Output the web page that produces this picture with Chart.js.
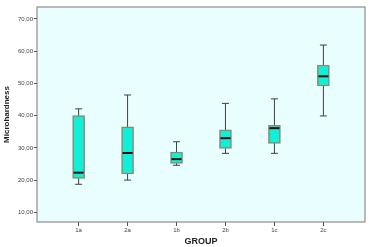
<!DOCTYPE html>
<html><head><meta charset="utf-8">
<script src="https://cdn.jsdelivr.net/npm/chart.js@4/dist/chart.umd.min.js"></script>
<style>html,body{margin:0;padding:0;background:#fff;}canvas{display:block;}</style>
</head><body>
<canvas id="c" width="371" height="247"></canvas>
<script>
const groups = ['1a','2a','1b','2b','1c','2c'];
const whiskerLow = [18.7, 20.0, 24.6, 28.3, 28.3, 39.9];
const q1 = [20.5, 21.9, 25.2, 29.8, 31.4, 49.2];
const median = [22.3, 28.4, 26.5, 33.0, 36.1, 52.2];
const q3 = [40.0, 36.5, 28.7, 35.6, 37.0, 55.7];
const whiskerHigh = [42.1, 46.4, 31.9, 43.8, 45.2, 61.9];
const yTicks = [10, 20, 30, 40, 50, 60, 70];

const bgPlugin = {
  id: 'bg',
  beforeDraw(chart) {
    const {ctx, chartArea: a} = chart;
    ctx.save();
    ctx.fillStyle = '#E9FEFE';
    ctx.fillRect(a.left, a.top, a.right - a.left, a.bottom - a.top);
    ctx.strokeStyle = '#8E8E8E';
    ctx.lineWidth = 1.2;
    ctx.strokeRect(a.left, a.top, a.right - a.left, a.bottom - a.top);
    ctx.restore();
  }
};

const boxPlugin = {
  id: 'box',
  afterDatasetsDraw(chart) {
    const {ctx, scales: {x, y}} = chart;
    const meta = chart.getDatasetMeta(0);
    ctx.save();
    groups.forEach((g, i) => {
      const cx = x.getPixelForValue(i);
      const bar = meta.data[i];
      const half = bar.width / 2;
      const cap = 3.5;
      ctx.strokeStyle = '#404040';
      ctx.lineWidth = 1;
      ctx.beginPath();
      ctx.moveTo(cx, y.getPixelForValue(q3[i]));
      ctx.lineTo(cx, y.getPixelForValue(whiskerHigh[i]));
      ctx.moveTo(cx - cap, y.getPixelForValue(whiskerHigh[i]));
      ctx.lineTo(cx + cap, y.getPixelForValue(whiskerHigh[i]));
      ctx.moveTo(cx, y.getPixelForValue(q1[i]));
      ctx.lineTo(cx, y.getPixelForValue(whiskerLow[i]));
      ctx.moveTo(cx - cap, y.getPixelForValue(whiskerLow[i]));
      ctx.lineTo(cx + cap, y.getPixelForValue(whiskerLow[i]));
      ctx.stroke();
      ctx.strokeStyle = '#111';
      ctx.lineWidth = 2;
      ctx.beginPath();
      ctx.moveTo(cx - half + 1, y.getPixelForValue(median[i]));
      ctx.lineTo(cx + half - 1, y.getPixelForValue(median[i]));
      ctx.stroke();
    });
    ctx.restore();
  }
};

new Chart(document.getElementById('c'), {
  type: 'bar',
  data: {
    datasets: [{
      data: groups.map((g, i) => ({x: i, y: [q1[i], q3[i]]})),
      backgroundColor: '#12EFD8',
      borderColor: '#8A8A6C',
      borderWidth: 1.5,
      borderSkipped: false,
      barThickness: 12
    }]
  },
  options: {
    responsive: false,
    animation: false,
    layout: {padding: {top: 7, right: 6, left: 0, bottom: 0}},
    plugins: {legend: {display: false}, tooltip: {enabled: false}},
    scales: {
      x: {
        type: 'linear',
        offset: false,
        min: -0.85, max: 5.85,
        afterBuildTicks(s) { s.ticks = groups.map((g, i) => ({value: i})); },
        afterFit(s) { s.height = 25; },
        ticks: {
          callback: (v) => groups[v] ?? '',
          font: {family: 'Liberation Sans', size: 6},
          color: '#444', padding: 1, maxRotation: 0, autoSkip: false
        },
        grid: {offset: false, drawOnChartArea: false, drawTicks: true, tickLength: 4, color: '#555'},
        border: {display: false},
        title: {
          display: true, text: 'GROUP',
          font: {family: 'Liberation Sans', size: 9, weight: 'bold'},
          color: '#222', padding: {top: 0, bottom: 0}
        }
      },
      y: {
        min: 7, max: 73.7,
        afterBuildTicks(s) { s.ticks = yTicks.map(v => ({value: v})); },
        afterFit(s) { s.width = 37; },
        ticks: {
          callback: (v) => v.toFixed(2).replace('.', ','),
          font: {family: 'Liberation Sans', size: 6},
          color: '#444', padding: 1
        },
        grid: {drawOnChartArea: false, drawTicks: true, tickLength: 3, color: '#555'},
        border: {display: false},
        title: {
          display: true, text: 'Microhardness',
          font: {family: 'Liberation Sans', size: 8, weight: 'bold'},
          color: '#222', padding: {top: 2, bottom: 0}
        }
      }
    }
  },
  plugins: [bgPlugin, boxPlugin]
});
</script>
</body></html>
